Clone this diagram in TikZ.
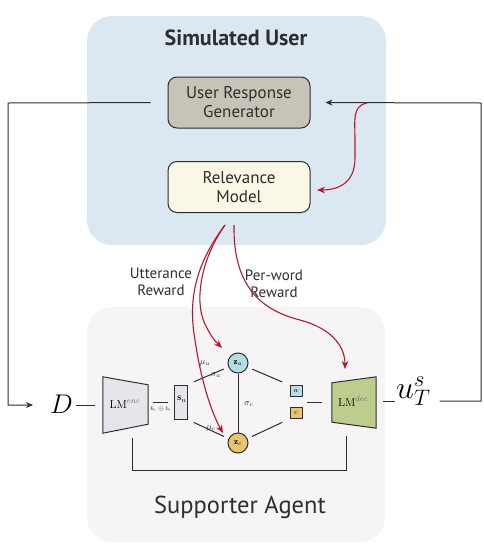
\RequirePackage{fix-cm}
\documentclass[tikz,border=0pt]{standalone}
\usepackage{fontspec}
\newfontfamily\sansf{PT Sans}
\usetikzlibrary{arrows.meta,calc}
\definecolor{userbg}{HTML}{DCE8F1}
\definecolor{agentbg}{HTML}{F6F4F5}
\definecolor{urgfill}{HTML}{C8C3B7}
\definecolor{rmfill}{HTML}{FBF7E7}
\definecolor{encfill}{HTML}{E5E6EB}
\definecolor{decfill}{HTML}{BCCD8E}
\definecolor{afill}{HTML}{B7DDE4}
\definecolor{cfill}{HTML}{E5C56D}
\definecolor{rewred}{HTML}{B5182E}
\definecolor{ink}{HTML}{2E2E2E}
\tikzset{
  panel/.style={rounded corners=25pt},
  modbox/.style={draw=ink, line width=1pt, rounded corners=9pt, minimum width=142pt, minimum height=51pt, align=center, font=\sansf\fontsize{17}{19}\selectfont, text=ink},
  wire/.style={draw=ink, line width=1pt},
  arr/.style={wire, -{Stealth[length=7pt,width=6pt]}},
  redarr/.style={draw=rewred, line width=1.1pt, -{Stealth[length=8pt,width=6.5pt]}},
  lbl/.style={font=\sansf\fontsize{15}{17}\selectfont, text=ink, align=center},
  zcirc/.style={circle, draw=ink, line width=1pt, minimum size=20pt, inner sep=0pt, font=\fontsize{9}{10}\selectfont},
  sqbox/.style={draw=ink, line width=0.8pt, minimum width=12pt, minimum height=11pt, inner sep=0pt, font=\fontsize{7}{8}\selectfont},
  small/.style={font=\fontsize{9}{10}\selectfont, inner sep=0pt, text=ink},
}
\begin{document}
\begin{tikzpicture}[x=1pt,y=-1pt]
\useasboundingbox (0,0) rectangle (483,547);
% panels
\fill[userbg, panel] (87,16) rectangle (386,245);
\fill[agentbg, panel] (87,307) rectangle (385,542);
\node[font=\sansf\bfseries\fontsize{22}{26}\selectfont, text=ink] (su_title) at (236,38) {Simulated User};
\node[font=\sansf\fontsize{24.5}{28}\selectfont, text=ink] (sa_title) at (240,507) {Supporter Agent};
% modules
\node[modbox, fill=urgfill] (urg) at (239,102.5) {User Response\\Generator};
\node[modbox, fill=rmfill] (rm) at (239,187) {Relevance\\Model};
% reward labels
\node[lbl] (ur) at (161,282) {Utterance\\Reward};
\node[lbl] (pr) at (274,284) {Per-word\\Reward};
% D and u
\node[inner sep=0pt, anchor=base west, font=\fontsize{27}{30}\selectfont] (D) at (50,413) {$D$};
\node[inner sep=0pt, anchor=base west, font=\fontsize{32}{36}\selectfont] (u) at (396,398) {$u^{s}_{T}$};
% encoder
\node[minimum width=45pt, minimum height=56pt, inner sep=0pt] (enc) at (125.5,405) {};
\draw[wire, fill=encfill] (enc.north west) -- ([yshift=-8pt]enc.north east) -- ([yshift=9pt]enc.south east) -- (enc.south west) -- cycle;
\node[font=\fontsize{11.5}{12}\selectfont, inner sep=0pt] (enclbl) at (125,404) {$\mathrm{LM}^{\color{ink!70}enc}$};
% decoder
\node[minimum width=44pt, minimum height=51pt, inner sep=0pt] (dec) at (354,402.5) {};
\draw[wire, fill=decfill] ([yshift=-6pt]dec.north west) -- (dec.north east) -- (dec.south east) -- ([yshift=6pt]dec.south west) -- cycle;
\node[font=\fontsize{11.5}{12}\selectfont, inner sep=0pt] (declbl) at (353,401) {$\mathrm{LM}^{\color{ink!70}dec}$};
% s_u
\node[draw=ink, line width=1pt, fill=encfill, minimum width=13pt, minimum height=34pt, inner sep=0pt] (s) at (180.5,402) {};
\node[font=\fontsize{10}{11}\selectfont, inner sep=0pt] (slbl) at (182,399) {$\mathbf{s}_u$};
% latent nodes
\node[zcirc, fill=afill] (za) at (238,363) {$\mathbf{z}_a$};
\node[zcirc, fill=cfill] (zc) at (238,443) {$\mathbf{z}_c$};
\node[sqbox, fill=afill] (a) at (296,391) {$a$};
\node[sqbox, fill=cfill] (c) at (296,413) {$c$};
% small labels
\node[font=\fontsize{5.5}{6}\selectfont, inner sep=0pt, text=ink!80] (hlbl) at (161,409) {$\mathbf{h}_t\oplus\mathbf{h}_i$};
\node[small] (mua) at (205,363) {$\mu_a$};
\node[small] (siga) at (216,375) {$\sigma_a$};
\node[small] (muc) at (211,428) {$\mu_c$};
\node[small] (sigc) at (249,404) {$\sigma_c$};
% wires
\draw[wire, shorten <=3pt, shorten >=8pt] (D.east |- enc) -- (enc.west);
\draw[wire, shorten <=5pt, shorten >=6pt] (enc.east |- s) -- (s.west);
\draw[wire, shorten <=7pt, shorten >=5pt] (s.north east) -- (za);
\draw[wire, shorten <=7pt, shorten >=5pt] (s.south east) -- (zc);
\draw[wire] (za) -- (zc);
\draw[wire, shorten <=5pt, shorten >=8pt] (za) -- (a.north west);
\draw[wire, shorten <=5pt, shorten >=8pt] (zc) -- (c.south west);
\coordinate (ac) at ($(a.east)!0.5!(c.east)$);
\draw[wire, shorten <=5pt, shorten >=10pt] (ac) -- (ac -| dec.west);
\draw[wire, shorten <=7pt, shorten >=1pt] (dec.east |- declbl) -- (declbl -| u.west);
\draw[wire] ([shift={(6.5,5)}]enc.south) -- ++(0,32) -| ([shift={(-8,8)}]dec.south);
% feedback loops
\coordinate (lc) at (8,103);
\coordinate (rc) at (481,103);
\draw[arr, shorten <=17pt, shorten >=17pt] (urg.west) -- (lc) |- (D.west |- enc);
\draw[arr, shorten <=9pt, shorten >=15pt] (declbl -| u.east) -| (rc) -- (urg.east);
% red reward arrows
\coordinate (cr) at (367,103);
\coordinate (rmA) at (225,225);
\coordinate (rmB) at (234,225);
\draw[redarr] (cr) .. controls (352,106) and (355,120) .. (355,140) -- (355,158) .. controls (355,184) and (337,190) .. (317,190);
\draw[redarr] (rmA) .. controls (200,260) and (193,305) .. (207,328) .. controls (212,338) and (216,342) .. (222,348);
\draw[redarr] (rmA) .. controls (195,265) and (188,300) .. (195,340) .. controls (200,375) and (210,410) .. (223,433);
\draw[redarr] (rmB) .. controls (233,285) and (260,310) .. (300,320) .. controls (330,328) and (345,345) .. (345,369);
\end{tikzpicture}
\end{document}
